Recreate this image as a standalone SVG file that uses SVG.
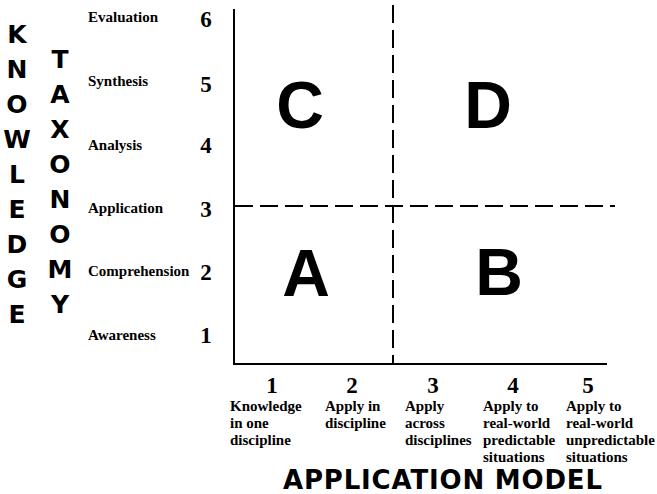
<svg xmlns="http://www.w3.org/2000/svg" width="657" height="494" viewBox="0 0 657 494">
<style>
.big{font-family:"DejaVu Sans",sans-serif;font-weight:bold;font-size:25px;fill:#000;text-anchor:middle}
.lbl{font-family:"Liberation Serif","Times New Roman",serif;font-weight:bold;font-size:15px;fill:#000}
.num{font-family:"Liberation Serif","Times New Roman",serif;font-weight:bold;font-size:23px;fill:#000;text-anchor:middle}
.quad{font-family:"Liberation Sans",Arial,sans-serif;font-weight:bold;font-size:66px;fill:#000;text-anchor:middle}
.axis{stroke:#000;stroke-width:2;fill:none}
.dash{stroke:#000;stroke-width:2;fill:none;stroke-dasharray:18 7}
</style>
<rect width="657" height="494" fill="#fff"/>
<g id="knowledge-title">
<text class="big" x="17" y="43">K</text>
<text class="big" x="17" y="78">N</text>
<text class="big" x="17" y="113">O</text>
<text class="big" x="17" y="148">W</text>
<text class="big" x="17" y="183">L</text>
<text class="big" x="17" y="218">E</text>
<text class="big" x="17" y="253">D</text>
<text class="big" x="17" y="288">G</text>
<text class="big" x="17" y="323">E</text>
</g>
<g id="taxonomy-title">
<text class="big" x="60" y="68">T</text>
<text class="big" x="60" y="103">A</text>
<text class="big" x="60" y="138">X</text>
<text class="big" x="60" y="173">O</text>
<text class="big" x="60" y="208">N</text>
<text class="big" x="60" y="243">O</text>
<text class="big" x="60" y="278">M</text>
<text class="big" x="60" y="313">Y</text>
</g>
<g id="y-labels">
<text class="lbl" x="88" y="22">Evaluation</text>
<text class="lbl" x="88" y="86">Synthesis</text>
<text class="lbl" x="88" y="150">Analysis</text>
<text class="lbl" x="88" y="213">Application</text>
<text class="lbl" x="88" y="276">Comprehension</text>
<text class="lbl" x="88" y="340">Awareness</text>
<text class="num" x="206" y="27">6</text>
<text class="num" x="206" y="92">5</text>
<text class="num" x="206" y="153">4</text>
<text class="num" x="206" y="217">3</text>
<text class="num" x="206" y="280">2</text>
<text class="num" x="206" y="343">1</text>
</g>
<g id="connectors">
<polyline class="axis" points="234,9 234,364 607,364"/>
<line class="dash" x1="393" y1="5" x2="393" y2="364"/>
<line class="dash" x1="235" y1="206" x2="615" y2="206"/>
</g>
<g id="quadrant-C"><text class="quad" x="300" y="128">C</text></g>
<g id="quadrant-D"><text class="quad" x="488" y="128">D</text></g>
<g id="quadrant-A"><text class="quad" x="306" y="296">A</text></g>
<g id="quadrant-B"><text class="quad" x="499" y="295">B</text></g>
<g id="x-labels">
<text class="num" x="272" y="393">1</text>
<text class="num" x="352" y="393">2</text>
<text class="num" x="433" y="393">3</text>
<text class="num" x="513" y="393">4</text>
<text class="num" x="588" y="393">5</text>
<text class="lbl" x="230" y="411">Knowledge<tspan x="230" dy="17">in one</tspan><tspan x="230" dy="17">discipline</tspan></text>
<text class="lbl" x="325" y="411">Apply in<tspan x="325" dy="17">discipline</tspan></text>
<text class="lbl" x="405" y="411">Apply<tspan x="405" dy="17">across</tspan><tspan x="405" dy="17">disciplines</tspan></text>
<text class="lbl" x="483" y="411">Apply to<tspan x="483" dy="17">real-world</tspan><tspan x="483" dy="17">predictable</tspan><tspan x="483" dy="17">situations</tspan></text>
<text class="lbl" x="566" y="411">Apply to<tspan x="566" dy="17">real-world</tspan><tspan x="566" dy="17">unpredictable</tspan><tspan x="566" dy="17">situations</tspan></text>
</g>
<g id="x-title">
<text x="283" y="489" style="font-family:'DejaVu Sans',sans-serif;font-weight:bold;font-size:26px;fill:#000" textLength="319" lengthAdjust="spacing">APPLICATION MODEL</text>
</g>
</svg>
